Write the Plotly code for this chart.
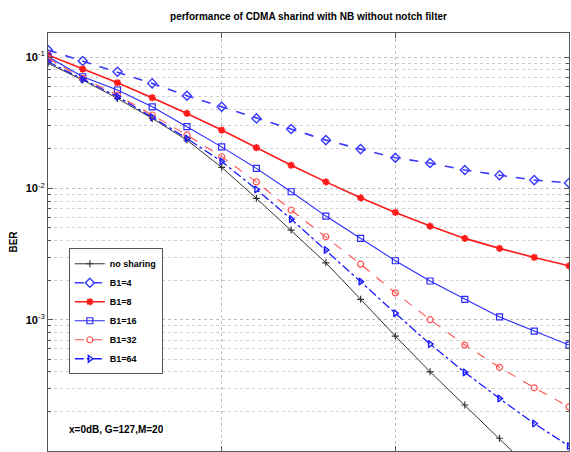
import plotly.graph_objects as go

snr_db = list(range(16))

ber_no_sharing = [0.0895, 0.0668, 0.0484, 0.0341, 0.0233, 0.01445, 0.00839, 0.00481,
                  0.00271, 0.00143, 7.5e-4, 4.01e-4, 2.24e-4, 1.25e-4, 6.9e-5, 3.8e-5]
ber_b1_4 = [0.113, 0.0932, 0.0772, 0.0630, 0.0507, 0.0418, 0.0341, 0.0283,
            0.0233, 0.0199, 0.0171, 0.0156, 0.0138, 0.0126, 0.01156, 0.0110]
ber_b1_8 = [0.1036, 0.0810, 0.0637, 0.0490, 0.0372, 0.0278, 0.0204, 0.0150,
            0.0112, 0.00847, 0.00656, 0.00516, 0.00416, 0.00349, 0.00298, 0.00257]
ber_b1_16 = [0.1005, 0.0708, 0.0561, 0.0418, 0.0295, 0.0207, 0.0142, 0.00942,
             0.00615, 0.00416, 0.00281, 0.00197, 0.00143, 0.00105, 8.19e-4, 6.41e-4]
ber_b1_32 = [0.0977, 0.0689, 0.0514, 0.0362, 0.0255, 0.0174, 0.0112, 0.00684,
             0.00428, 0.00265, 0.00160, 0.00100, 6.41e-4, 4.34e-4, 3.03e-4, 2.17e-4]
ber_b1_64 = [0.0921, 0.0676, 0.0499, 0.0348, 0.0240, 0.0160, 0.00982, 0.00583,
             0.00339, 0.00195, 0.00112, 6.52e-4, 3.97e-4, 2.51e-4, 1.62e-4, 1.09e-4]

series_names = ["no sharing", "B1=4", "B1=8", "B1=16", "B1=32", "B1=64"]
y_tick_vals = [1e-4, 1e-3, 1e-2, 1e-1]
y_tick_text = ["<b>10</b><sup>-4</sup>", "<b>10</b><sup>-3</sup>",
               "<b>10</b><sup>-2</sup>", "<b>10</b><sup>-1</sup>"]
y_minor_vals = [m * d for d in [1e-5, 1e-4, 1e-3, 1e-2, 1e-1] for m in range(2, 10)]

title_text = "performance of CDMA sharind with NB without notch filter"
y_label = "BER"
note_text = "x=0dB, G=127,M=20"

styles = [
    dict(color="#333333", width=1, dash="solid", symbol="cross-thin-open", size=5, mlw=1.2),
    dict(color="#3a3aff", width=1.6, dash="dash", symbol="diamond-open", size=7, mlw=1.4),
    dict(color="#ff1a1a", width=1.6, dash="solid", symbol="asterisk-open", size=6, mlw=1.8),
    dict(color="#2a2aff", width=1.1, dash="solid", symbol="square-open", size=6, mlw=1.2),
    dict(color="#ff5050", width=1.1, dash="dash", symbol="circle-open", size=6, mlw=1.2),
    dict(color="#1a1aff", width=1.3, dash="dashdot", symbol="triangle-right-open", size=6, mlw=1.4),
]

data = [ber_no_sharing, ber_b1_4, ber_b1_8, ber_b1_16, ber_b1_32, ber_b1_64]

fig = go.Figure()
for name, ys, st in zip(series_names, data, styles):
    fig.add_trace(go.Scatter(
        x=snr_db, y=ys, name="<b>" + name + "</b>", mode="lines+markers",
        line=dict(color=st["color"], width=st["width"], dash=st["dash"]),
        marker=dict(symbol=st["symbol"], size=st["size"], color=st["color"],
                    line=dict(color=st["color"], width=st["mlw"])),
    ))

font_family = "Liberation Sans, Arial, sans-serif"
fig.update_layout(
    width=571, height=452,
    margin=dict(l=48, r=2, t=33, b=1, autoexpand=False),
    paper_bgcolor="white", plot_bgcolor="white",
    font=dict(family=font_family, color="black", size=10),
    title=dict(text="<b>" + title_text + "</b>", xref="paper", x=0.5, xanchor="center",
               yref="container", y=0.9646, yanchor="middle",
               font=dict(size=10, family=font_family)),
    showlegend=True,
    legend=dict(x=0.040, y=0.485, xanchor="left", yanchor="top",
                bgcolor="white", bordercolor="#555555", borderwidth=1,
                font=dict(size=9, family=font_family), tracegroupgap=0,
                itemwidth=30),
)

fig.update_xaxes(
    range=[0, 15], showticklabels=False, dtick=5, tick0=0, automargin=False,
    showgrid=True, gridcolor="#bdbdbd", griddash="dot", gridwidth=1,
    showline=True, linecolor="#555555", linewidth=1, mirror="ticks",
    ticks="inside", ticklen=5, tickcolor="#555555", zeroline=False,
)
fig.update_yaxes(
    type="log", range=[-4.0, -0.817], automargin=False,
    tickmode="array", tickvals=y_tick_vals, ticktext=y_tick_text,
    tickfont=dict(size=11, family=font_family),
    showgrid=True, gridcolor="#bdbdbd", griddash="dot", gridwidth=1,
    showline=True, linecolor="#555555", linewidth=1, mirror="ticks",
    ticks="inside", ticklen=5, tickcolor="#555555", zeroline=False,
    title=dict(text="<b>" + y_label + "</b>", standoff=6, font=dict(size=10)),
    minor=dict(tickmode="array", tickvals=y_minor_vals, showgrid=True,
               gridcolor="#cfcfcf", griddash="dot", gridwidth=1,
               ticks="inside", ticklen=3, tickcolor="#555555"),
)

fig.add_annotation(
    text="<b>" + note_text + "</b>", xref="paper", yref="paper",
    x=0.036, y=0.0526, xanchor="left", yanchor="middle", showarrow=False,
    font=dict(size=10, family=font_family),
)

fig.write_html(
    "out.html",
    config={"displayModeBar": False},
    post_script="document.body.style.margin='0';document.body.style.padding='0';",
)
